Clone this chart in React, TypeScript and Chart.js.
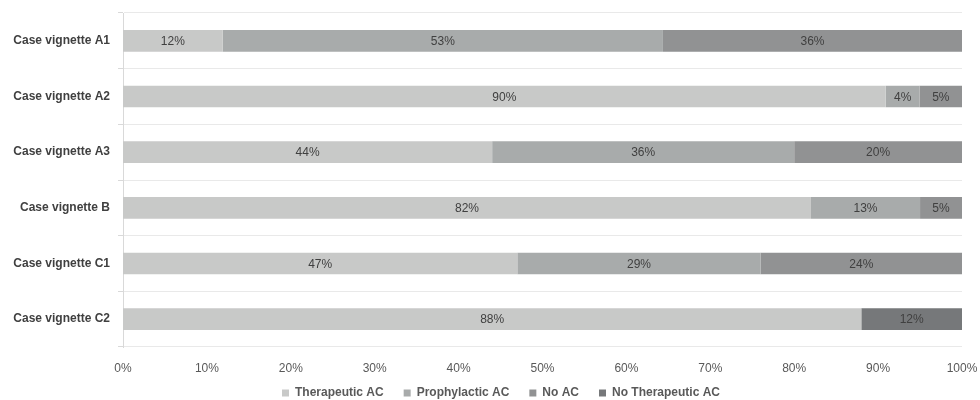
import React, { useEffect, useRef } from "react";
import { Chart, registerables } from "chart.js";

Chart.register(...registerables);

const categories = [
  "Case vignette A1",
  "Case vignette A2",
  "Case vignette A3",
  "Case vignette B",
  "Case vignette C1",
  "Case vignette C2",
];
const therapeuticAC = [12, 90, 44, 82, 47, 88];
const prophylacticAC = [53, 4, 36, 13, 29, 0];
const noAC = [36, 5, 20, 5, 24, 0];
const noTherapeuticAC = [0, 0, 0, 0, 0, 12];
const seriesNames = ["Therapeutic AC", "Prophylactic AC", "No AC", "No Therapeutic AC"];
const seriesColors = ["#c8c9c8", "#a8abab", "#919293", "#76787a"];
const xTicks = [0, 10, 20, 30, 40, 50, 60, 70, 80, 90, 100];

const FONT = "'Liberation Sans', Arial, sans-serif";

export default function App() {
  const ref = useRef<HTMLCanvasElement | null>(null);
  useEffect(() => {
    if (!ref.current) return;
    const raw = [therapeuticAC, prophylacticAC, noAC, noTherapeuticAC];
    const totals = categories.map((_, i) => raw.reduce((s, arr) => s + arr[i], 0));
    const datasets = raw.map((arr, k) => ({
      label: seriesNames[k],
      data: arr.map((v, i) => (v ? (v / totals[i]) * 100 : null)),
      rawValues: arr,
      backgroundColor: seriesColors[k],
      borderWidth: 0,
      barPercentage: 0.39,
      categoryPercentage: 1,
    }));

    const labelPlugin = {
      id: "segLabels",
      afterDatasetsDraw(chart: any) {
        const ctx = chart.ctx;
        ctx.save();
        ctx.font = `12px ${FONT}`;
        ctx.fillStyle = "#404040";
        ctx.textAlign = "center";
        ctx.textBaseline = "middle";
        chart.data.datasets.forEach((ds: any, di: number) => {
          const meta = chart.getDatasetMeta(di);
          meta.data.forEach((el: any, i: number) => {
            const v = ds.rawValues[i];
            if (!v) return;
            const c = el.getCenterPoint();
            ctx.fillText(`${v}%`, c.x, c.y + 1);
          });
        });
        ctx.restore();
      },
    };

    const legendFit = {
      id: "legendFit",
      beforeInit(chart: any) {
        const lg = chart.legend;
        if (!lg) return;
        const orig = lg.fit;
        lg.fit = function () {
          orig.call(lg);
          lg.height = 23;
        };
      },
      afterLayout(chart: any) {
        const lg = chart.legend;
        if (!lg) return;
        lg.top -= 10;
        lg.left += 20;
        lg.right += 20;
      },
    };

    const chart = new Chart(ref.current, {
      type: "bar",
      data: { labels: categories, datasets: datasets as any },
      options: {
        indexAxis: "y",
        responsive: true,
        maintainAspectRatio: false,
        animation: false,
        layout: { padding: { top: 13, right: 18, left: 0, bottom: 0 } },
        scales: {
          x: {
            stacked: true,
            min: 0,
            max: 100,
            afterBuildTicks: (s: any) => {
              s.ticks = xTicks.map((v) => ({ value: v }));
            },
            afterFit: (s: any) => {
              s.height = 30;
              s.paddingLeft = 0;
              s.paddingRight = 0;
            },
            grid: { display: false },
            border: { display: false },
            ticks: {
              color: "#595959",
              font: { family: FONT, size: 12 },
              padding: 6,
              callback: (v: any) => `${v}%`,
            },
          },
          y: {
            stacked: true,
            afterFit: (s: any) => {
              s.width = 123;
              s.paddingTop = 0;
              s.paddingBottom = 0;
            },
            grid: {
              color: "#e9e9e9",
              tickColor: "#d9d9d9",
              tickLength: 5,
              offset: true,
            },
            border: { display: true, color: "#d9d9d9" },
            ticks: {
              color: "#404040",
              font: { family: FONT, size: 12, weight: "bold" },
              padding: 8,
            },
          },
        },
        plugins: {
          legend: {
            position: "bottom",
            labels: {
              boxWidth: 7,
              boxHeight: 7,
              padding: 20,
              color: "#595959",
              font: { family: FONT, size: 12, weight: "bold" },
            },
          },
          tooltip: { enabled: false },
        },
      },
      plugins: [legendFit, labelPlugin],
    });
    return () => chart.destroy();
  }, []);

  return (
    <div style={{ position: "fixed", left: 0, top: 0, width: 980, height: 400 }}>
      <canvas ref={ref} />
    </div>
  );
}
